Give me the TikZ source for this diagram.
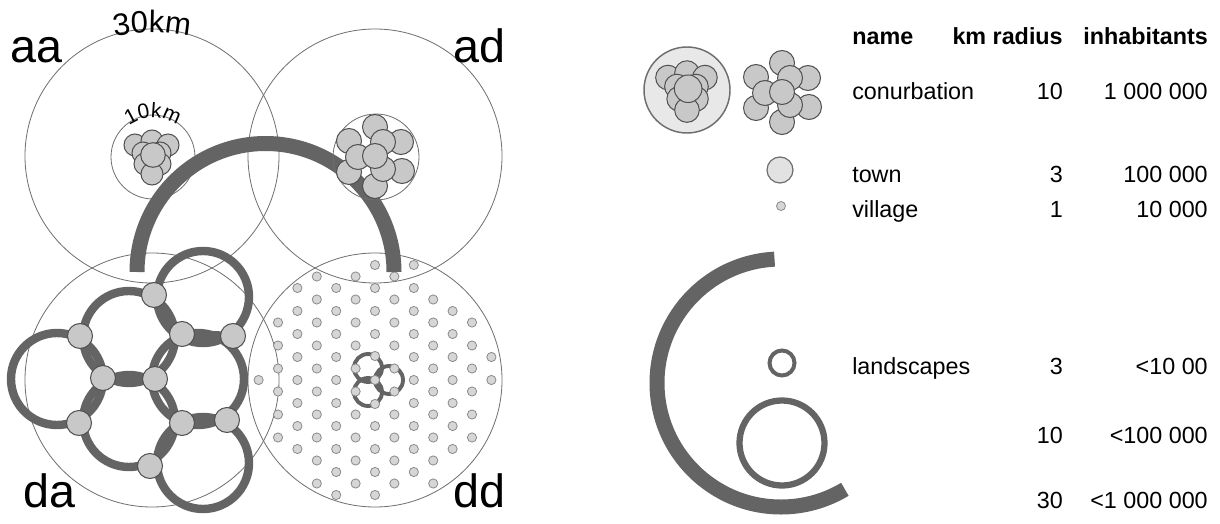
\documentclass[tikz,border=0pt]{standalone}
\usepackage{fontspec}
\setmainfont{Liberation Sans}
\usetikzlibrary{decorations.text}
\definecolor{ringgray}{HTML}{646464}
\definecolor{linegray}{HTML}{6E6E6E}
\definecolor{nodefill}{HTML}{C8C8C8}
\definecolor{nodeline}{HTML}{505050}
\definecolor{dotfill}{HTML}{D6D6D6}
\definecolor{dotline}{HTML}{8A8A8A}
\definecolor{townfill}{HTML}{E2E2E2}
\definecolor{confill}{HTML}{E8E8E8}
\newcommand{\conurbcluster}[3]{%
  \begin{scope}[shift={(#1,#2)},scale=#3]
    \foreach \p in {(-17,12),(0,16),(16,12),(-9,4),(8,4),(-7,-7),(8,-7),(0,-17)}
      \draw[settlement] \p circle (11);
    \draw[settlement] (1,2) circle (12.3);
  \end{scope}}
\newcommand{\conurbflower}[2]{%
  \begin{scope}[shift={(#1,#2)}]
    \foreach \p in {(0,29),(-26,15),(26,14),(-26,-16),(27,-15),(0,-30),(-17,-1),(8,14),(8,-13),(0,0)}
      \draw[settlement] \p circle (12.5);
  \end{scope}}
\begin{document}
\begin{tikzpicture}[x=0.75pt,y=0.75pt,
  thincircle/.style={draw=linegray, line width=0.6pt},
  thickring/.style={draw=ringgray, line width=6.3pt},
  ringbar/.style={draw=ringgray, line width=6.3pt},
  settlement/.style={draw=nodeline, fill=nodefill, line width=0.75pt},
  village/.style={draw=dotline, fill=dotfill, line width=0.6pt},
  bigarc/.style={draw=ringgray, line width=11.25pt},
  minering/.style={draw=ringgray, line width=2.9pt},
  maplabel/.style={inner sep=0pt, font=\fontsize{35}{35}\selectfont},
  legendtext/.style={inner sep=0pt, font=\fontsize{17.5}{20}\selectfont},
  legendhead/.style={inner sep=0pt, font=\fontsize{17.5}{20}\selectfont\bfseries},
]
\fill[white] (0,0) rectangle (1220,-524);
\useasboundingbox (0,0) rectangle (1220,-524);

% 30 km circles
\draw[thincircle] (152,-156) circle (127);
\draw[thincircle] (375,-156) circle (127);
\draw[thincircle] (152,-380) circle (127);
\draw[thincircle] (375,-380) circle (127);

% da : landscape network of rings
\foreach \c in {(129,-337),(57,-379),(129,-421),(198,-379),(203,-297),(203,-463)}
  \draw[thickring] \c circle (46);
\draw[ringbar] (103,-378) -- (155,-379);
\draw[ringbar] (182,-334) -- (233,-336);
\draw[ringbar] (182,-423) -- (227,-420);
\foreach \p in {(154,-295),(80,-336),(182,-334),(233,-336),(103,-378),(155,-379),(79,-423),(182,-423),(227,-420),(150,-466)}
  \draw[settlement] \p circle (12.5);

% dd : villages on a lattice
\foreach \j in {0} \draw[village] ({375-6*19.4},{-(380+23*\j)}) circle (4.6);
\foreach \j in {-3,...,2} \draw[village] ({375-5*19.4},{-(391.5+23*\j)}) circle (4.6);
\foreach \j in {-4,...,3} \draw[village] ({375-4*19.4},{-(380+23*\j)}) circle (4.6);
\foreach \j in {-5,...,4} \draw[village] ({375-3*19.4},{-(391.5+23*\j)}) circle (4.6);
\foreach \j in {-4,...,5} \draw[village] ({375-2*19.4},{-(380+23*\j)}) circle (4.6);
\foreach \j in {-5,-4,-3,-2,1,2,3,4} \draw[village] ({375-1*19.4},{-(391.5+23*\j)}) circle (4.6);
\foreach \j in {-5,-4,-3,-2,2,3,4,5} \draw[village] (375,{-(380+23*\j)}) circle (4.6);
\foreach \j in {-5,-4,-3,-2,1,2,3,4} \draw[village] ({375+1*19.4},{-(391.5+23*\j)}) circle (4.6);
\foreach \j in {-5,...,4} \draw[village] ({375+2*19.4},{-(380+23*\j)}) circle (4.6);
\foreach \j in {-4,...,4} \draw[village] ({375+3*19.4},{-(391.5+23*\j)}) circle (4.6);
\foreach \j in {-3,...,3} \draw[village] ({375+4*19.4},{-(380+23*\j)}) circle (4.6);
\foreach \j in {-3,...,2} \draw[village] ({375+5*19.4},{-(391.5+23*\j)}) circle (4.6);
\foreach \j in {-1,0} \draw[village] ({375+6*19.4},{-(380+23*\j)}) circle (4.6);
% dd : small network in the centre
\draw[minering] (368,-368) circle (14);
\draw[minering] (389,-380) circle (14);
\draw[minering] (368,-392) circle (14);
\foreach \p in {(375,-356),(355.6,-368.5),(394.4,-368.5),(375,-380),(355.6,-391.5),(394.4,-391.5),(375,-404)}
  \draw[village] \p circle (4.6);

% aa : conurbation
\draw[thincircle] (153,-157) circle (42);
\conurbcluster{152}{-157}{1}

% connecting arc
\draw[bigarc] (137,-272) arc (180:0:128.5);

% ad : conurbation
\draw[thincircle] (376,-157) circle (43);
\conurbflower{375}{-156}

% curved distance labels
\path[decorate, decoration={text along path, text align=center,
  text={|\fontsize{23.25}{24}\selectfont|30km}}] (152,-233) ++(115:200) arc (115:65:200);
\path[decorate, decoration={text along path, text align=center,
  text={|\fontsize{15.75}{16}\selectfont|10km}}] (153,-159) ++(150:41) arc (150:30:41);

% quadrant labels
\node[maplabel, anchor=base west] (laa) at (10,-63) {aa};
\node[maplabel, anchor=base west] (lad) at (453,-63) {ad};
\node[maplabel, anchor=base west] (lda) at (23,-507) {da};
\node[maplabel, anchor=base west] (ldd) at (453,-507) {dd};

% legend symbols
\draw[draw=linegray, fill=confill, line width=1.1pt] (687,-90) circle (43);
\conurbcluster{687}{-91}{1.12}
\conurbflower{782}{-92}
\draw[draw=linegray, fill=townfill, line width=0.9pt] (780,-170) circle (13);
\draw[village] (781,-206) circle (4.5);
\draw[draw=ringgray, line width=3pt] (782,-363) circle (12.5);
\draw[draw=ringgray, line width=4.7pt] (782,-443) circle (42.5);
\draw[bigarc] (781,-383) ++(93:124) arc (93:301:124);

% legend table
\node[legendhead, anchor=base west] (hname) at (852,-45) {name};
\node[legendhead, anchor=base east] (hkm) at (1063,-45) {km radius};
\node[legendhead, anchor=base east] (hinh) at (1208,-45) {inhabitants};
\node[legendtext, anchor=base west] (nconu) at (852,-100) {conurbation};
\node[legendtext, anchor=base east] (kconu) at (1063,-100) {10};
\node[legendtext, anchor=base east] (iconu) at (1208,-100) {1 000 000};
\node[legendtext, anchor=base west] (ntown) at (852,-183) {town};
\node[legendtext, anchor=base east] (ktown) at (1063,-183) {3};
\node[legendtext, anchor=base east] (itown) at (1208,-183) {100 000};
\node[legendtext, anchor=base west] (nvill) at (852,-217) {village};
\node[legendtext, anchor=base east] (kvill) at (1063,-217) {1};
\node[legendtext, anchor=base east] (ivill) at (1208,-217) {10 000};
\node[legendtext, anchor=base west] (nland) at (852,-374) {landscapes};
\node[legendtext, anchor=base east] (kland) at (1063,-374) {3};
\node[legendtext, anchor=base east] (iland) at (1208,-374) {<10 00};
\node[legendtext, anchor=base east] (kten) at (1063,-443) {10};
\node[legendtext, anchor=base east] (iten) at (1208,-443) {<100 000};
\node[legendtext, anchor=base east] (kthirty) at (1063,-508) {30};
\node[legendtext, anchor=base east] (ithirty) at (1208,-508) {<1 000 000};
\end{tikzpicture}
\end{document}
